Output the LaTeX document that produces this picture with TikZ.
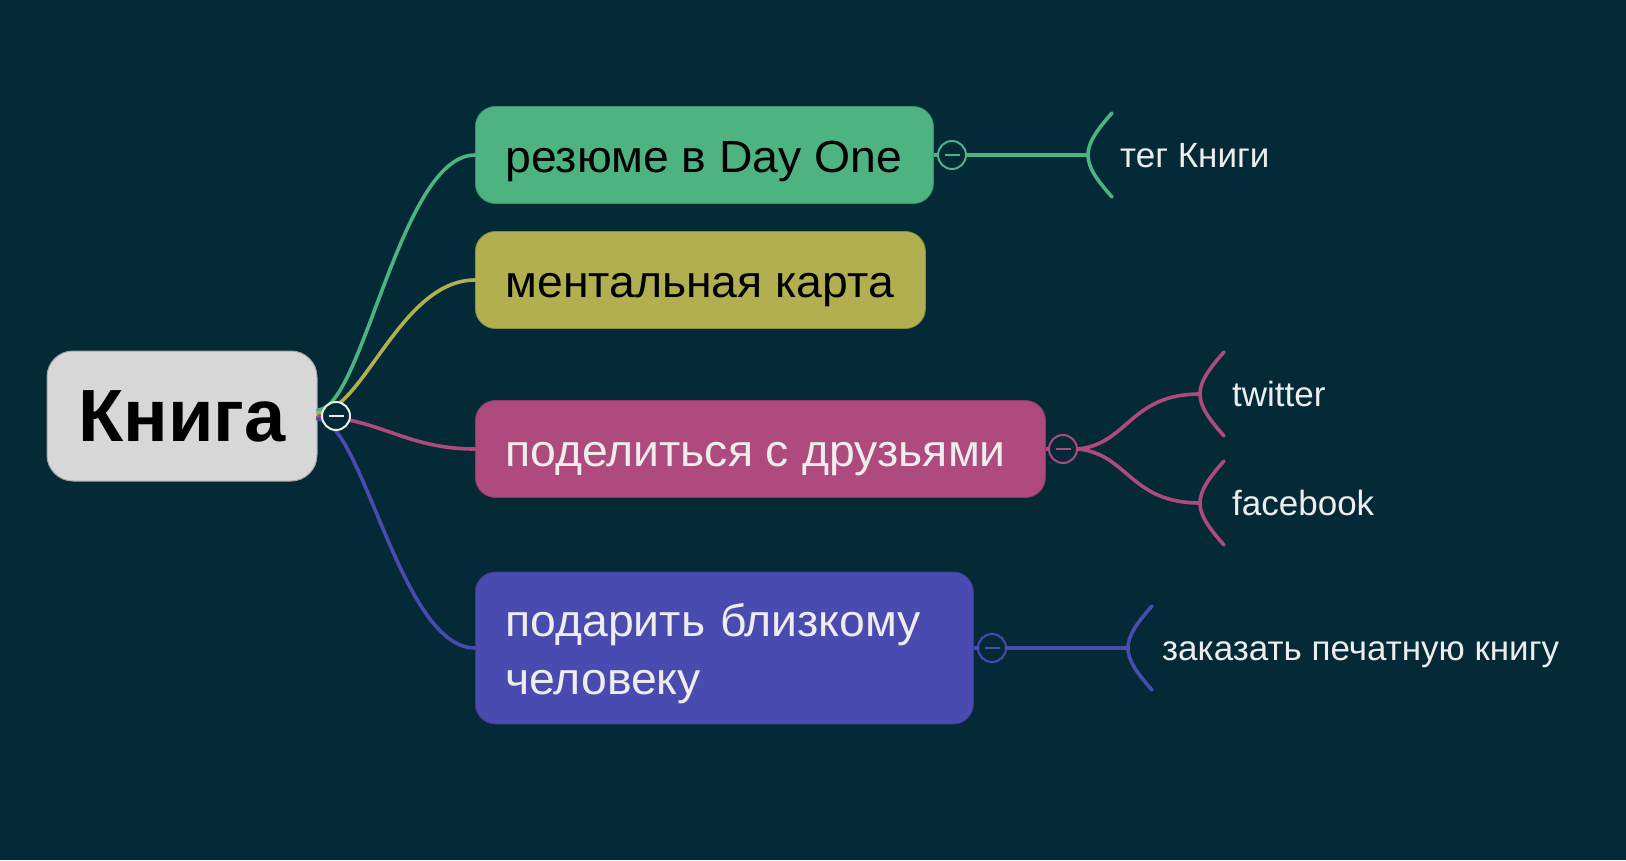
\documentclass[tikz,border=0pt]{standalone}
\usepackage{fontspec}
\setmainfont{Liberation Sans}
\newfontfamily\widefnt[FakeStretch=1.03]{Liberation Sans}
\definecolor{bg}{HTML}{032A36}
\definecolor{cgreen}{HTML}{4DB380}
\definecolor{colive}{HTML}{B2AF50}
\definecolor{cpink}{HTML}{AE4A7E}
\definecolor{cblue}{HTML}{4A4BB0}
\definecolor{croot}{HTML}{D7D7D7}
\definecolor{ctext}{HTML}{EDEDED}
\newcommand\mybracket[2]{\draw[branch,#2] (#1) ++(24,-42) .. controls +(-16,18) and +(0,-12) .. (#1) .. controls +(0,12) and +(-16,-18) .. ++(24,42);}
\begin{document}
\begin{tikzpicture}[x=1pt,y=-1pt,
  mainbox/.style={rounded corners=20pt, anchor=west, inner xsep=30pt, inner ysep=0pt, draw=#1!80!black, line width=0.8pt, fill=#1, font=\widefnt\fontsize{45}{58}\selectfont},
  rootbox/.style={rounded corners=26pt, draw=gray!70, line width=1pt, fill=croot, minimum width=270pt, minimum height=130pt, font=\fontsize{74}{80}\selectfont\bfseries, text=black},
  branch/.style={line width=3.6pt, line cap=round},
  colnode/.style={circle, draw=#1, fill=bg, line width=2pt, minimum size=28pt, inner sep=0pt,
     path picture={\draw[#1, line width=2pt] (path picture bounding box.center) +(-7.5,0) -- +(7.5,0);}},
  subtext/.style={anchor=west, inner sep=0pt, text=ctext, text height=25pt, text depth=0pt, font=\fontsize{35}{40}\selectfont}
]
\fill[bg] (0,0) rectangle (1626,860);
\useasboundingbox (0,0) rectangle (1626,860);

\node[rootbox] (root) at (182,416) {Книга};
\node[mainbox=cgreen, minimum height=97pt, text height=40pt, text depth=6pt, text=black] (n1) at (475,155) {\makebox[398pt][l]{резюме в Day One}};
\node[mainbox=colive, minimum height=97pt, text height=40pt, text depth=6pt, text=black] (n2) at (475,280) {\makebox[390pt][l]{ментальная карта}};
\node[mainbox=cpink, minimum height=97pt, text height=40pt, text depth=6pt, text=ctext] (n3) at (475,449) {\makebox[510pt][l]{поделиться с друзьями}};
\node[mainbox=cblue, align=left, text width=438pt, minimum height=152pt, text height=40pt, text depth=64pt, text=ctext] (n4) at (475,648) {подарить близкому\\человеку};

% root branches
\draw[branch,cgreen] ([yshift=6pt]root.east) .. controls +(45,0) and +(-75,0) .. (n1.west);
\draw[branch,colive] ([yshift=3pt]root.east) .. controls +(45,0) and +(-75,0) .. (n2.west);
\draw[branch,cpink] ([yshift=-1pt]root.east) .. controls +(60,0) and +(-70,0) .. (n3.west);
\draw[branch,cblue] ([yshift=-3pt]root.east) .. controls +(45,0) and +(-75,0) .. (n4.west);
\node[colnode=ctext] (rc) at (336,416) {};

% green
\node[colnode=cgreen] (c1) at (952,155) {};
\coordinate (b1) at (1088,155);
\draw[branch,cgreen, line cap=butt] (n1.east) -- (c1.west);
\draw[branch,cgreen, line cap=butt] (c1.east) -- (b1);
\mybracket{b1}{cgreen}
\node[subtext] (t1) at (1120,155) {тег Книги};

% pink
\node[colnode=cpink] (c3) at (1063,449) {};
\coordinate (b3a) at (1200,394);
\coordinate (b3b) at (1200,503);
\draw[branch,cpink, line cap=butt] (n3.east) -- (c3.west);
\draw[branch,cpink] (c3.east) .. controls +(50,-5) and +(-70,0) .. (b3a);
\draw[branch,cpink] (c3.east) .. controls +(50,5) and +(-70,0) .. (b3b);
\mybracket{b3a}{cpink}
\mybracket{b3b}{cpink}
\node[subtext] (t3a) at (1232,394) {twitter};
\node[subtext] (t3b) at (1232,503) {facebook};

% blue
\node[colnode=cblue] (c4) at (992,648) {};
\coordinate (b4) at (1128,648);
\draw[branch,cblue, line cap=butt] (n4.east) -- (c4.west);
\draw[branch,cblue, line cap=butt] (c4.east) -- (b4);
\mybracket{b4}{cblue}
\node[subtext] (t4) at (1162,648) {заказать печатную книгу};
\end{tikzpicture}
\end{document}
